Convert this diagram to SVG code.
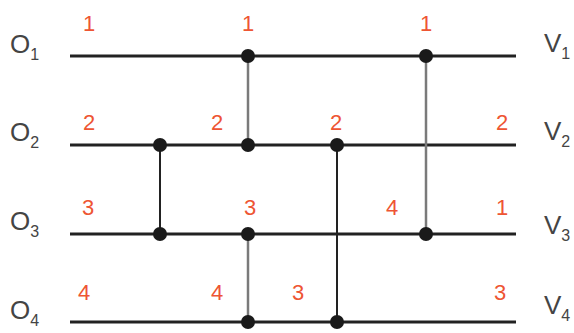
<svg xmlns="http://www.w3.org/2000/svg" width="574" height="333" viewBox="0 0 574 333">
<style>
.h{stroke:#222;stroke-width:3;fill:none}
.vd{stroke:#222;stroke-width:2;fill:none}
.vg{stroke:#7a7a7a;stroke-width:2.5;fill:none}
.dot{fill:#1a1a1a}
.lab{font-family:"Liberation Sans",Arial,sans-serif;font-size:26px;fill:#444}
.sub{font-size:16px}
.num{font-family:"Liberation Sans",Arial,sans-serif;font-size:22px;fill:#ee5533;text-anchor:middle}
</style>
<rect width="574" height="333" fill="#fff"/>
<g id="connectors">
<line class="h" x1="70" y1="56" x2="516" y2="56"/>
<line class="h" x1="70" y1="145" x2="516" y2="145"/>
<line class="h" x1="70" y1="234" x2="516" y2="234"/>
<line class="h" x1="70" y1="322" x2="516" y2="322"/>
<line class="vg" x1="248" y1="56" x2="248" y2="145"/>
<line class="vd" x1="160" y1="145" x2="160" y2="234"/>
<line class="vd" x1="337" y1="145" x2="337" y2="322"/>
<line class="vg" x1="426" y1="56" x2="426" y2="234"/>
<line class="vg" x1="248" y1="234" x2="248" y2="322"/>
</g>
<g id="dots">
<circle class="dot" cx="248" cy="56" r="7"/>
<circle class="dot" cx="426" cy="56" r="7"/>
<circle class="dot" cx="160" cy="145" r="7"/>
<circle class="dot" cx="248" cy="145" r="7"/>
<circle class="dot" cx="337" cy="145" r="7"/>
<circle class="dot" cx="160" cy="234" r="7"/>
<circle class="dot" cx="248" cy="234" r="7"/>
<circle class="dot" cx="426" cy="234" r="7"/>
<circle class="dot" cx="248" cy="322" r="7"/>
<circle class="dot" cx="337" cy="322" r="7"/>
</g>
<g id="O-labels">
<text class="lab" x="10" y="53">O<tspan class="sub" dy="7">1</tspan></text>
<text class="lab" x="10" y="141">O<tspan class="sub" dy="7">2</tspan></text>
<text class="lab" x="10" y="230">O<tspan class="sub" dy="7">3</tspan></text>
<text class="lab" x="10" y="319">O<tspan class="sub" dy="7">4</tspan></text>
</g>
<g id="V-labels">
<text class="lab" x="544" y="52">V<tspan class="sub" dy="7">1</tspan></text>
<text class="lab" x="544" y="140">V<tspan class="sub" dy="7">2</tspan></text>
<text class="lab" x="544" y="234">V<tspan class="sub" dy="7">3</tspan></text>
<text class="lab" x="544" y="314">V<tspan class="sub" dy="7">4</tspan></text>
</g>
<g id="numbers">
<text class="num" x="89" y="31">1</text>
<text class="num" x="248" y="31">1</text>
<text class="num" x="426" y="31">1</text>
<text class="num" x="89" y="130">2</text>
<text class="num" x="217" y="130">2</text>
<text class="num" x="336" y="130">2</text>
<text class="num" x="502" y="130">2</text>
<text class="num" x="88" y="215">3</text>
<text class="num" x="250" y="215">3</text>
<text class="num" x="392" y="215">4</text>
<text class="num" x="502" y="215">1</text>
<text class="num" x="84" y="300">4</text>
<text class="num" x="217" y="300">4</text>
<text class="num" x="298" y="300">3</text>
<text class="num" x="500" y="300">3</text>
</g>
</svg>
